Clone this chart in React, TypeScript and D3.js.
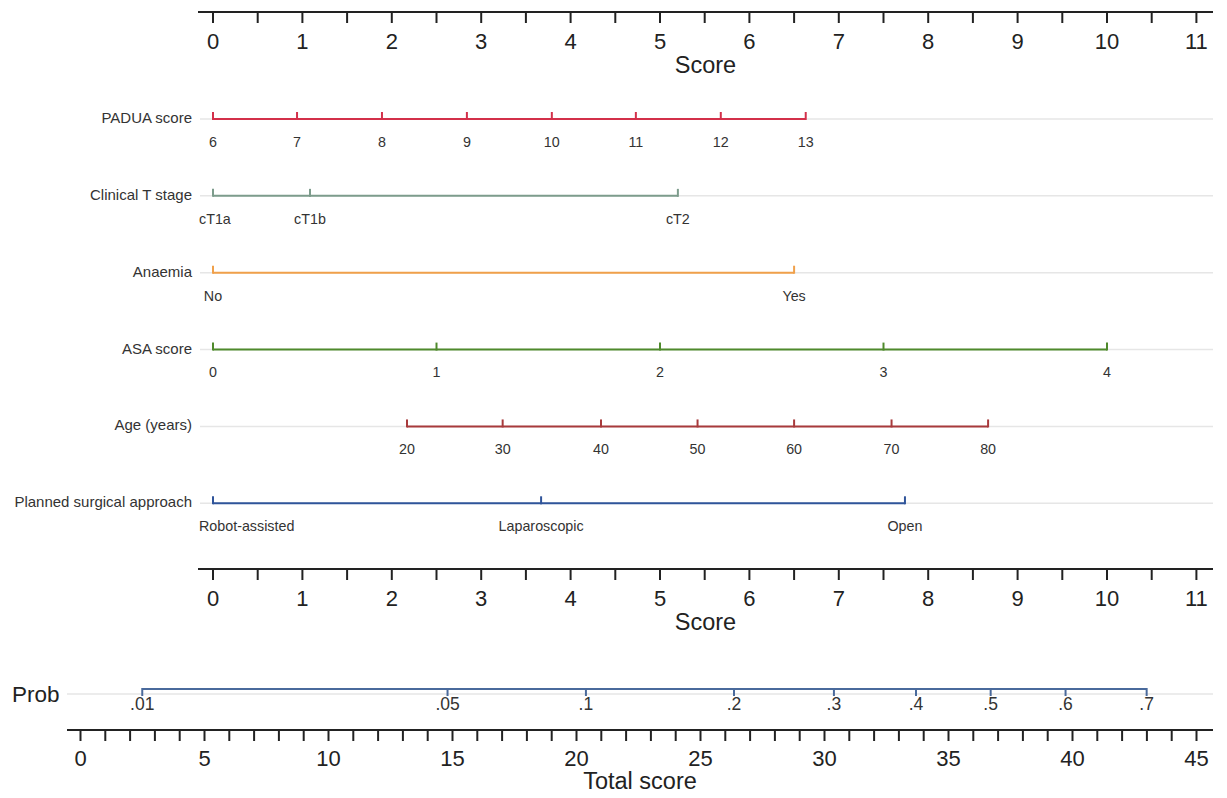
import React, { useEffect, useRef } from "react";
import * as d3 from "d3";

const W = 1227;
const H = 798;

// Score axis (points)
const scoreTickValues = [0, 1, 2, 3, 4, 5, 6, 7, 8, 9, 10, 11];
const scoreMinorValues = [0.5, 1.5, 2.5, 3.5, 4.5, 5.5, 6.5, 7.5, 8.5, 9.5, 10.5];

// Variables
const rowNames = [
  "PADUA score",
  "Clinical T stage",
  "Anaemia",
  "ASA score",
  "Age (years)",
  "Planned surgical approach",
];
const rowColors = ["#d3304a", "#7d9c8c", "#f0a04a", "#4f8a2c", "#a83a3c", "#2f549a"];

const paduaLabels = ["6", "7", "8", "9", "10", "11", "12", "13"];
const paduaPoints = [0, 0.94, 1.89, 2.84, 3.79, 4.73, 5.68, 6.63];

const tStageLabels = ["cT1a", "cT1b", "cT2"];
const tStagePoints = [0, 1.085, 5.2];

const anaemiaLabels = ["No", "Yes"];
const anaemiaPoints = [0, 6.5];

const asaLabels = ["0", "1", "2", "3", "4"];
const asaPoints = [0, 2.5, 5, 7.5, 10];

const ageLabels = ["20", "30", "40", "50", "60", "70", "80"];
const agePoints = [2.17, 3.24, 4.34, 5.42, 6.5, 7.59, 8.67];

const approachLabels = ["Robot-assisted", "Laparoscopic", "Open"];
const approachPoints = [0, 3.67, 7.74];

const rowLabels = [paduaLabels, tStageLabels, anaemiaLabels, asaLabels, ageLabels, approachLabels];
const rowPoints = [paduaPoints, tStagePoints, anaemiaPoints, asaPoints, agePoints, approachPoints];

// Total score axis
const totalTickValues = [0, 5, 10, 15, 20, 25, 30, 35, 40, 45];
const totalMinorValues = d3.range(0, 46);

// Probability
const probLabels = [".01", ".05", ".1", ".2", ".3", ".4", ".5", ".6", ".7"];
const probTotals = [2.49, 14.8, 20.38, 26.35, 30.38, 33.69, 36.7, 39.72, 42.99];
const probColor = "#4a6a9c";

const FONT = "'Liberation Sans', Arial, Helvetica, sans-serif";

export default function App() {
  const ref = useRef<SVGSVGElement | null>(null);

  useEffect(() => {
    const svg = d3.select(ref.current);
    svg.selectAll("*").remove();

    const x = d3.scaleLinear().domain([0, 11]).range([213, 1196.4]);
    const xt = d3.scaleLinear().domain([0, 45]).range([80.5, 1196.5]);
    const y = d3.scalePoint<string>().domain(rowNames).range([119, 503.3]);

    const axisLeft = 198;
    const axisRight = 1213;

    const drawScoreAxis = (y0: number) => {
      const g = svg.append("g");
      g.append("line")
        .attr("x1", axisLeft).attr("x2", axisRight)
        .attr("y1", y0).attr("y2", y0)
        .attr("stroke", "#222").attr("stroke-width", 2);
      g.selectAll("line.tk")
        .data([...scoreTickValues, ...scoreMinorValues])
        .enter().append("line")
        .attr("x1", (d) => x(d)).attr("x2", (d) => x(d))
        .attr("y1", y0).attr("y2", y0 + 11)
        .attr("stroke", "#222").attr("stroke-width", 2);
      g.selectAll("text.tl")
        .data(scoreTickValues)
        .enter().append("text")
        .attr("x", (d) => x(d)).attr("y", y0 + 31)
        .attr("text-anchor", "middle")
        .attr("dominant-baseline", "middle")
        .attr("font-family", FONT).attr("font-size", 22)
        .attr("fill", "#222")
        .text((d) => String(d));
      g.append("text")
        .attr("x", (axisLeft + axisRight) / 2).attr("y", y0 + 55)
        .attr("text-anchor", "middle")
        .attr("dominant-baseline", "middle")
        .attr("font-family", FONT).attr("font-size", 23.5)
        .attr("fill", "#222")
        .text("Score");
    };

    drawScoreAxis(12);
    drawScoreAxis(569);

    rowNames.forEach((name, i) => {
      const yy = y(name) as number;
      const g = svg.append("g");
      g.append("line")
        .attr("x1", 200).attr("x2", axisRight)
        .attr("y1", yy).attr("y2", yy)
        .attr("stroke", "#e6e6e6").attr("stroke-width", 1.5);
      g.append("text")
        .attr("x", 192).attr("y", yy)
        .attr("text-anchor", "end")
        .attr("dominant-baseline", "middle")
        .attr("font-family", FONT).attr("font-size", 15)
        .attr("fill", "#333")
        .text(name);
      const pts = rowPoints[i];
      const labs = rowLabels[i];
      const color = rowColors[i];
      g.append("line")
        .attr("x1", x(d3.min(pts) as number)).attr("x2", x(d3.max(pts) as number))
        .attr("y1", yy).attr("y2", yy)
        .attr("stroke", color).attr("stroke-width", 2);
      g.selectAll("line.tk")
        .data(pts)
        .enter().append("line")
        .attr("x1", (d) => x(d)).attr("x2", (d) => x(d))
        .attr("y1", yy + 1).attr("y2", yy - 7)
        .attr("stroke", color).attr("stroke-width", 2);
      const texts = g.selectAll("text.tl")
        .data(pts)
        .enter().append("text")
        .attr("x", (d) => x(d)).attr("y", yy + 24)
        .attr("text-anchor", "middle")
        .attr("dominant-baseline", "middle")
        .attr("font-family", FONT).attr("font-size", 14.3)
        .attr("fill", "#333")
        .text((_d, j) => labs[j]);
      texts.each(function () {
        const el = this as SVGTextElement;
        const bb = el.getBBox();
        if (bb.x < 199) {
          d3.select(el).attr("text-anchor", "start").attr("x", 199);
        }
      });
    });

    // Prob row
    const py = 689;
    const pg = svg.append("g");
    pg.append("line")
      .attr("x1", 67).attr("x2", axisRight)
      .attr("y1", py + 5).attr("y2", py + 5)
      .attr("stroke", "#e6e6e6").attr("stroke-width", 1.5);
    pg.append("text")
      .attr("x", 12).attr("y", py + 7)
      .attr("dominant-baseline", "middle")
      .attr("font-family", FONT).attr("font-size", 22.5)
      .attr("fill", "#222")
      .text("Prob");
    pg.append("line")
      .attr("x1", xt(d3.min(probTotals) as number)).attr("x2", xt(d3.max(probTotals) as number))
      .attr("y1", py).attr("y2", py)
      .attr("stroke", probColor).attr("stroke-width", 2);
    pg.selectAll("line.tk")
      .data(probTotals)
      .enter().append("line")
      .attr("x1", (d) => xt(d)).attr("x2", (d) => xt(d))
      .attr("y1", py - 1).attr("y2", py + 7)
      .attr("stroke", probColor).attr("stroke-width", 2);
    pg.selectAll("text.tl")
      .data(probTotals)
      .enter().append("text")
      .attr("x", (d) => xt(d)).attr("y", py + 16)
      .attr("text-anchor", "middle")
      .attr("dominant-baseline", "middle")
      .attr("font-family", FONT).attr("font-size", 17.5)
      .attr("fill", "#333")
      .text((_d, j) => probLabels[j]);

    // Total score axis
    const ty = 730;
    const tg = svg.append("g");
    tg.append("line")
      .attr("x1", 67).attr("x2", axisRight)
      .attr("y1", ty).attr("y2", ty)
      .attr("stroke", "#222").attr("stroke-width", 2);
    tg.selectAll("line.tk")
      .data(totalMinorValues)
      .enter().append("line")
      .attr("x1", (d) => xt(d)).attr("x2", (d) => xt(d))
      .attr("y1", ty).attr("y2", ty + 11)
      .attr("stroke", "#222").attr("stroke-width", 2);
    tg.selectAll("text.tl")
      .data(totalTickValues)
      .enter().append("text")
      .attr("x", (d) => xt(d)).attr("y", ty + 30)
      .attr("text-anchor", "middle")
      .attr("dominant-baseline", "middle")
      .attr("font-family", FONT).attr("font-size", 22)
      .attr("fill", "#222")
      .text((d) => String(d));
    tg.append("text")
      .attr("x", (67 + axisRight) / 2).attr("y", ty + 53)
      .attr("text-anchor", "middle")
      .attr("dominant-baseline", "middle")
      .attr("font-family", FONT).attr("font-size", 23.5)
      .attr("fill", "#222")
      .text("Total score");
  }, []);

  return (
    <svg
      ref={ref}
      width={W}
      height={H}
      viewBox={`0 0 ${W} ${H}`}
      style={{ position: "absolute", left: 0, top: 0, background: "#fff" }}
    />
  );
}
